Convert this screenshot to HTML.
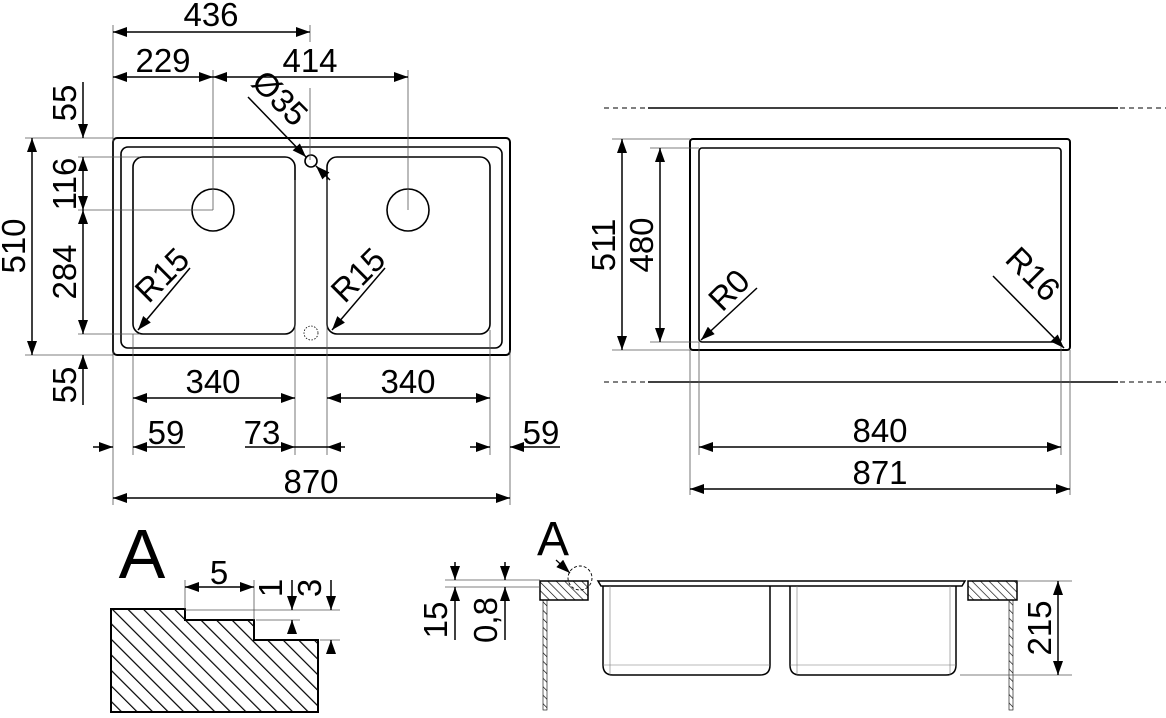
<!DOCTYPE html>
<html><head><meta charset="utf-8"><style>
html,body{margin:0;padding:0;background:#fff;}
svg{display:block;}
text{font-family:"Liberation Sans",sans-serif;font-size:33px;fill:#000;}
</style></head><body>
<svg width="1166" height="718" viewBox="0 0 1166 718" xmlns="http://www.w3.org/2000/svg">
<defs>
<marker id="a" viewBox="0 0 14 10" refX="14" refY="5" markerWidth="15" markerHeight="10" markerUnits="userSpaceOnUse" orient="auto-start-reverse"><path d="M0,0 L14,5 L0,10 Z" fill="#000"/></marker>
<pattern id="h" width="11" height="11" patternUnits="userSpaceOnUse" patternTransform="rotate(-45)"><line x1="0" y1="0" x2="0" y2="11" stroke="#000" stroke-width="2.4"/></pattern>
<pattern id="h2" width="6" height="6" patternUnits="userSpaceOnUse" patternTransform="rotate(-45)"><line x1="0" y1="0" x2="0" y2="6" stroke="#000" stroke-width="1.3"/></pattern>
</defs>
<g fill="none" stroke="#000">
<rect x="113" y="138" width="397" height="217" rx="4" stroke-width="2"/>
<rect x="121" y="147" width="381" height="201" rx="7" stroke-width="1.6"/>
<rect x="133" y="157" width="162" height="177" rx="10" stroke-width="1.6"/>
<rect x="327" y="157" width="163" height="177" rx="10" stroke-width="1.6"/>
<circle cx="213" cy="210" r="21" stroke-width="1.6"/>
<circle cx="408" cy="210" r="21" stroke-width="1.6"/>
<circle cx="311" cy="161" r="6" stroke-width="1.6"/>
<circle cx="311" cy="333" r="7" stroke-width="0.8" stroke-dasharray="1.5,1.5"/>
<g stroke-width="0.8" stroke="#555">
<line x1="113" y1="25" x2="113" y2="505"/>
<line x1="310" y1="25" x2="310" y2="42"/><line x1="310" y1="88" x2="310" y2="160"/>
<line x1="213" y1="70" x2="213" y2="210"/><line x1="408" y1="70" x2="408" y2="210"/>
<line x1="25" y1="138" x2="113" y2="138"/><line x1="78" y1="157" x2="140" y2="157"/>
<line x1="78" y1="210" x2="213" y2="210"/><line x1="78" y1="334" x2="140" y2="334"/>
<line x1="25" y1="355" x2="113" y2="355"/>
<line x1="133" y1="334" x2="133" y2="455"/><line x1="295" y1="180" x2="295" y2="455"/>
<line x1="327" y1="180" x2="327" y2="455"/><line x1="490" y1="330" x2="490" y2="455"/>
<line x1="510" y1="350" x2="510" y2="505"/>
</g>
<g stroke-width="1.5">
<line x1="113" y1="32" x2="310" y2="32" marker-start="url(#a)" marker-end="url(#a)"/>
<line x1="113" y1="77" x2="213" y2="77" marker-start="url(#a)" marker-end="url(#a)"/>
<line x1="213" y1="77" x2="408" y2="77" marker-start="url(#a)" marker-end="url(#a)"/>
<line x1="248" y1="97" x2="306" y2="157" marker-end="url(#a)"/>
<line x1="330" y1="180" x2="316" y2="166" marker-end="url(#a)"/>
<line x1="83" y1="82" x2="83" y2="138" marker-end="url(#a)"/>
<line x1="83" y1="157" x2="83" y2="210" marker-start="url(#a)" marker-end="url(#a)"/>
<line x1="83" y1="210" x2="83" y2="334" marker-start="url(#a)" marker-end="url(#a)"/>
<line x1="83" y1="405" x2="83" y2="355" marker-end="url(#a)"/>
<line x1="32" y1="138" x2="32" y2="355" marker-start="url(#a)" marker-end="url(#a)"/>
<line x1="190" y1="268" x2="138" y2="330" marker-end="url(#a)"/>
<line x1="385" y1="268" x2="332" y2="330" marker-end="url(#a)"/>
<line x1="133" y1="398" x2="295" y2="398" marker-start="url(#a)" marker-end="url(#a)"/>
<line x1="327" y1="398" x2="490" y2="398" marker-start="url(#a)" marker-end="url(#a)"/>
<line x1="93" y1="447" x2="113" y2="447" marker-end="url(#a)"/>
<line x1="185" y1="447" x2="133" y2="447" marker-end="url(#a)"/>
<line x1="245" y1="447" x2="295" y2="447" marker-end="url(#a)"/>
<line x1="345" y1="447" x2="327" y2="447" marker-end="url(#a)"/>
<line x1="295" y1="447" x2="327" y2="447"/>
<line x1="470" y1="447" x2="490" y2="447" marker-end="url(#a)"/>
<line x1="560" y1="447" x2="510" y2="447" marker-end="url(#a)"/>
<line x1="113" y1="498" x2="510" y2="498" marker-start="url(#a)" marker-end="url(#a)"/>
</g>
<rect x="690" y="139" width="380" height="211" rx="3" stroke-width="2"/>
<rect x="699" y="148" width="362" height="194" rx="3" stroke-width="1.6"/>
<line x1="604" y1="108" x2="648" y2="108" stroke-width="1" stroke-dasharray="5,4"/>
<line x1="648" y1="108" x2="1118" y2="108" stroke-width="1.5"/>
<line x1="1120" y1="108" x2="1166" y2="108" stroke-width="1" stroke-dasharray="5,4"/>
<line x1="604" y1="382" x2="648" y2="382" stroke-width="1" stroke-dasharray="5,4"/>
<line x1="648" y1="382" x2="1118" y2="382" stroke-width="1.5"/>
<line x1="1120" y1="382" x2="1166" y2="382" stroke-width="1" stroke-dasharray="5,4"/>
<g stroke-width="0.8" stroke="#555">
<line x1="612" y1="139" x2="690" y2="139"/><line x1="650" y1="148" x2="699" y2="148"/>
<line x1="650" y1="342" x2="699" y2="342"/><line x1="612" y1="350" x2="690" y2="350"/>
<line x1="690" y1="350" x2="690" y2="495"/><line x1="699" y1="342" x2="699" y2="455"/>
<line x1="1061" y1="342" x2="1061" y2="455"/><line x1="1070" y1="350" x2="1070" y2="495"/>
</g>
<g stroke-width="1.5">
<line x1="622" y1="139" x2="622" y2="350" marker-start="url(#a)" marker-end="url(#a)"/>
<line x1="660" y1="148" x2="660" y2="342" marker-start="url(#a)" marker-end="url(#a)"/>
<line x1="757" y1="288" x2="701" y2="340" marker-end="url(#a)"/>
<line x1="993" y1="276" x2="1064" y2="348" marker-end="url(#a)"/>
<line x1="699" y1="447" x2="1061" y2="447" marker-start="url(#a)" marker-end="url(#a)"/>
<line x1="690" y1="489" x2="1070" y2="489" marker-start="url(#a)" marker-end="url(#a)"/>
</g>
<path d="M111,609 H185 V620 H254 V640 H318 V712 H111 Z" fill="url(#h)" stroke-width="2"/>
<g stroke-width="0.8" stroke="#555">
<line x1="185" y1="580" x2="185" y2="609"/><line x1="254" y1="580" x2="254" y2="620"/>
<line x1="185" y1="610" x2="340" y2="610"/><line x1="256" y1="620" x2="300" y2="620"/>
<line x1="320" y1="640" x2="340" y2="640"/>
</g>
<g stroke-width="1.5">
<line x1="185" y1="587" x2="254" y2="587" marker-start="url(#a)" marker-end="url(#a)"/>
<line x1="292" y1="580" x2="292" y2="610" marker-end="url(#a)"/>
<line x1="292" y1="632" x2="292" y2="620" marker-end="url(#a)"/>
<line x1="331" y1="580" x2="331" y2="610" marker-end="url(#a)"/>
<line x1="331" y1="654" x2="331" y2="640" marker-end="url(#a)"/>
</g>
<rect x="540" y="581" width="48" height="19" fill="url(#h2)" stroke-width="1.5"/>
<rect x="968" y="581" width="49" height="19" fill="url(#h2)" stroke-width="1.5"/>
<rect x="543" y="600" width="4" height="110" fill="url(#h2)" stroke-width="0.6"/>
<rect x="1009" y="600" width="4" height="110" fill="url(#h2)" stroke-width="0.6"/>
<path d="M598,581 H965 L962,586 H601 Z" stroke-width="1.5"/>
<path d="M603,586 V665 Q603,675 613,675 H760 Q770,675 770,665 V586" stroke-width="1.5"/>
<path d="M790,586 V665 Q790,675 800,675 H946 Q956,675 956,665 V586" stroke-width="1.5"/>
<g stroke-width="0.6" stroke="#777">
<line x1="610" y1="586" x2="610" y2="675"/><line x1="603" y1="665" x2="770" y2="665"/>
<line x1="797" y1="586" x2="797" y2="675"/><line x1="790" y1="665" x2="956" y2="665"/>
<line x1="950" y1="586" x2="950" y2="675"/>
</g>
<circle cx="580" cy="578" r="12" stroke-width="0.9" stroke-dasharray="3,2"/>
<line x1="556" y1="560" x2="570" y2="573" stroke-width="1.2" marker-end="url(#a)"/>
<g stroke-width="0.8" stroke="#555">
<line x1="445" y1="580" x2="540" y2="580"/><line x1="445" y1="587" x2="540" y2="587"/>
<line x1="1017" y1="581" x2="1072" y2="581"/><line x1="960" y1="675" x2="1072" y2="675"/>
</g>
<g stroke-width="1.5">
<line x1="455" y1="562" x2="455" y2="580" marker-end="url(#a)"/>
<line x1="455" y1="640" x2="455" y2="587" marker-end="url(#a)"/>
<line x1="505" y1="562" x2="505" y2="580" marker-end="url(#a)"/>
<line x1="505" y1="640" x2="505" y2="587" marker-end="url(#a)"/>
<line x1="1058" y1="581" x2="1058" y2="675" marker-start="url(#a)" marker-end="url(#a)"/>
</g>
</g>
<text x="211" y="26" text-anchor="middle">436</text>
<text x="163" y="72" text-anchor="middle">229</text>
<text x="310" y="72" text-anchor="middle">414</text>
<text transform="translate(272,106) rotate(45)" text-anchor="middle">Ø35</text>
<text transform="translate(76,103) rotate(-90)" text-anchor="middle">55</text>
<text transform="translate(76,184) rotate(-90)" text-anchor="middle">116</text>
<text transform="translate(76,272) rotate(-90)" text-anchor="middle">284</text>
<text transform="translate(76,385) rotate(-90)" text-anchor="middle">55</text>
<text transform="translate(25,246) rotate(-90)" text-anchor="middle">510</text>
<text transform="translate(170,283) rotate(-45)" text-anchor="middle">R15</text>
<text transform="translate(366,283) rotate(-45)" text-anchor="middle">R15</text>
<text x="213" y="393" text-anchor="middle">340</text>
<text x="408" y="393" text-anchor="middle">340</text>
<text x="166" y="444" text-anchor="middle">59</text>
<text x="262" y="444" text-anchor="middle">73</text>
<text x="541" y="444" text-anchor="middle">59</text>
<text x="311" y="493" text-anchor="middle">870</text>
<text transform="translate(615,245) rotate(-90)" text-anchor="middle">511</text>
<text transform="translate(653,245) rotate(-90)" text-anchor="middle">480</text>
<text transform="translate(737,298) rotate(-45)" text-anchor="middle">R0</text>
<text transform="translate(1025,282) rotate(45)" text-anchor="middle">R16</text>
<text x="880" y="442" text-anchor="middle">840</text>
<text x="880" y="484" text-anchor="middle">871</text>
<text x="142" y="578" text-anchor="middle" style="font-size:70px">A</text>
<text x="219" y="584" text-anchor="middle">5</text>
<text transform="translate(282,588) rotate(-90)" text-anchor="middle">1</text>
<text transform="translate(321,588) rotate(-90)" text-anchor="middle">3</text>
<text x="553" y="555" text-anchor="middle" style="font-size:48px">A</text>
<text transform="translate(447,620) rotate(-90)" text-anchor="middle">15</text>
<text transform="translate(497,620) rotate(-90)" text-anchor="middle">0,8</text>
<text transform="translate(1051,628) rotate(-90)" text-anchor="middle">215</text>
</svg>
</body></html>
